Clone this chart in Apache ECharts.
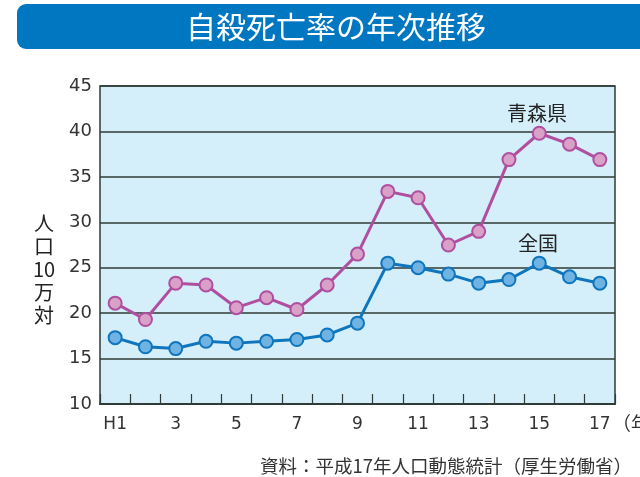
<!DOCTYPE html>
<html>
<head>
<meta charset="utf-8">
<script src="https://cdn.jsdelivr.net/npm/echarts@6/dist/echarts.min.js"></script>
<style>
  html, body { margin: 0; padding: 0; background: #fff; }
  #chart { width: 640px; height: 477px; }
</style>
</head>
<body>
<div id="chart"></div>
<script>
// 平成 years
const years = ["H1", "2", "3", "4", "5", "6", "7", "8", "9", "10", "11", "12", "13", "14", "15", "16", "17"];
const aomori = [21.1, 19.3, 23.3, 23.1, 20.6, 21.7, 20.4, 23.1, 26.5, 33.4, 32.7, 27.5, 29.0, 36.9, 39.8, 38.6, 36.9];
const zenkoku = [17.3, 16.3, 16.1, 16.9, 16.7, 16.9, 17.1, 17.6, 18.9, 25.5, 25.0, 24.3, 23.3, 23.7, 25.5, 24.0, 23.3];

const font = "'Noto Sans CJK JP', 'Noto Sans', sans-serif";
const numFont = "'DejaVu Sans', 'Noto Sans', sans-serif";
const chart = echarts.init(document.getElementById("chart"));

chart.setOption({
  backgroundColor: "#fff",
  animation: false,
  grid: {
    left: 100,
    top: 86,
    width: 515,
    height: 318,
    show: true,
    backgroundColor: "#d4eefa",
    borderColor: "#2f3b36",
    borderWidth: 1.5
  },
  xAxis: {
    type: "category",
    data: years,
    boundaryGap: true,
    axisLine: { lineStyle: { color: "#2f3b36", width: 2 } },
    axisTick: {
      show: true,
      inside: true,
      length: 10,
      interval: 0,
      lineStyle: { color: "#2f3b36", width: 1.2 }
    },
    axisLabel: {
      interval: 1,
      color: "#333",
      fontSize: 17,
      fontFamily: numFont,
      margin: 12
    }
  },
  yAxis: {
    type: "value",
    min: 10,
    max: 45,
    interval: 5,
    axisLine: { show: false },
    axisTick: { show: false },
    splitLine: { lineStyle: { color: "#2f3b36", width: 1.5 } },
    axisLabel: {
      color: "#333",
      fontSize: 18,
      fontFamily: numFont,
      margin: 8
    }
  },
  graphic: [
    {
      type: "rect",
      shape: { x: 17, y: 4, width: 640, height: 45, r: [9, 0, 0, 9] },
      style: { fill: "#0077c0" }
    },
    {
      type: "text",
      x: 336, y: 27,
      style: {
        text: "自殺死亡率の年次推移",
        fill: "#fff",
        font: "30px " + font,
        align: "center",
        verticalAlign: "middle"
      }
    },
    {
      type: "text",
      x: 44, y: 269,
      style: {
        text: "人\n口\n10\n万\n対",
        fill: "#222",
        font: "20px " + font,
        lineHeight: 23,
        align: "center",
        verticalAlign: "middle"
      }
    },
    {
      type: "text",
      x: 537, y: 113,
      style: { text: "青森県", fill: "#222", font: "20px " + font, align: "center", verticalAlign: "middle" }
    },
    {
      type: "text",
      x: 538, y: 243,
      style: { text: "全国", fill: "#222", font: "20px " + font, align: "center", verticalAlign: "middle" }
    },
    {
      type: "text",
      x: 612, y: 424,
      style: { text: "（年）", fill: "#333", font: "19px " + font, align: "left", verticalAlign: "middle" }
    },
    {
      type: "text",
      x: 632, y: 466,
      style: {
        text: "資料：平成17年人口動態統計（厚生労働省）",
        fill: "#333",
        font: "18.5px " + font,
        align: "right",
        verticalAlign: "middle"
      }
    }
  ],
  series: [
    {
      name: "青森県",
      type: "line",
      data: aomori,
      symbol: "circle",
      symbolSize: 13,
      lineStyle: { color: "#b04fa0", width: 3 },
      itemStyle: { color: "#d9a0c8", borderColor: "#b04fa0", borderWidth: 2 }
    },
    {
      name: "全国",
      type: "line",
      data: zenkoku,
      symbol: "circle",
      symbolSize: 13,
      lineStyle: { color: "#0f75bd", width: 3 },
      itemStyle: { color: "#6fb3e3", borderColor: "#0f75bd", borderWidth: 2 }
    }
  ]
});
</script>
</body>
</html>
